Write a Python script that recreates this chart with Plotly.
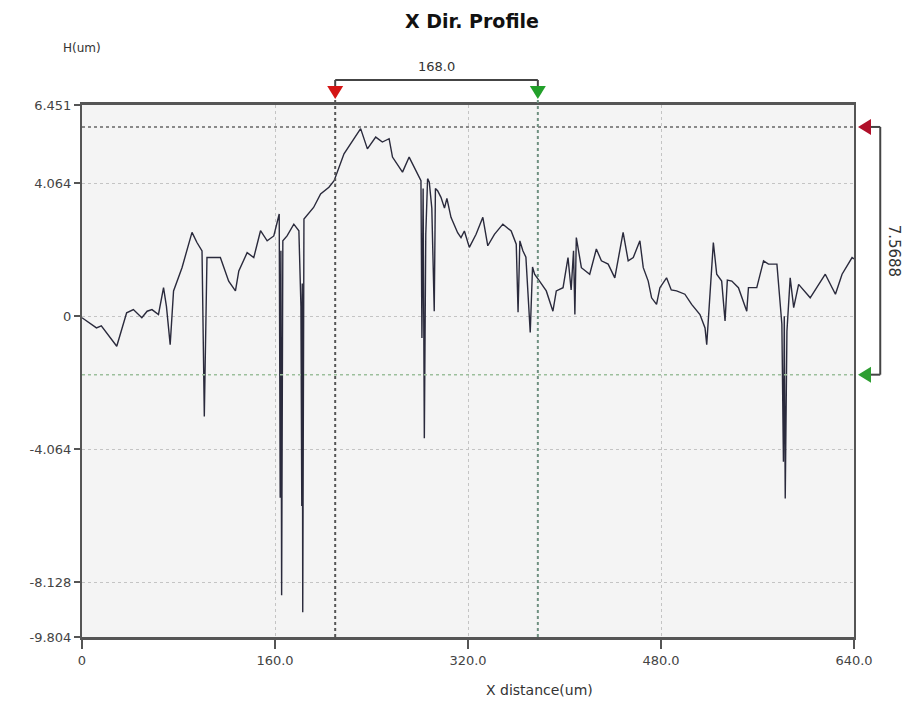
import plotly.graph_objects as go

# ---- profile data (X distance in um, height in um) ----
x_um = [0, 3.9, 7.5, 12, 16, 20.5, 28.8, 37, 42.6, 49.6, 54, 58, 63.4, 67.6, 70, 73.1, 75.9,
        82.9, 91.2, 95.3, 99.5, 101.4, 103.6, 114.7, 121.6, 127.2, 130, 136.9, 142.4, 148,
        153.5, 159, 163.5, 164.3, 164.9, 165.5, 166.5, 170, 175.6, 179.8, 181.5, 182.2, 182.6,
        183.0, 184, 192, 197.8, 204.7, 209, 217.2, 222.8, 231, 236.6, 243.5, 249, 254.6, 257.4,
        265.7, 271.2, 276.8, 281, 281.8, 282.8, 283.8, 285, 286.5, 287.9, 290, 292, 293, 294.8,
        297.6, 300.5, 302.5, 305.9, 311.4, 314.2, 317, 321.1, 326.7, 332.3, 336.4, 341.9, 348.9,
        355.8, 360, 361.5, 363, 365.5, 368, 371.6, 373.5, 375.2, 379.3, 384.9, 390.4, 393.2,
        398.8, 402.9, 405.5, 407.5, 408.6, 409.8, 414, 420.9, 426.4, 430.6, 436.2, 441.7, 448.6,
        452.8, 457, 462.5, 465.3, 469.4, 472.2, 476.3, 479.1, 484.6, 488.5, 492.9, 499.8, 505.4,
        512.3, 516.5, 517.9, 520, 523.4, 526.2, 530.3, 533.1, 535, 538.7, 544.2, 551.1, 552.5,
        559.4, 565, 569.1, 576.1, 580.2, 581.5, 582.2, 583, 584.4, 587.1, 590, 594.1, 603.7,
        610.7, 616.2, 624.6, 630.1, 638.4, 640]
h_um = [-0.05, -0.15, -0.25, -0.36, -0.30, -0.51, -0.92, 0.10, 0.20, -0.05, 0.15, 0.20, 0.05, 0.87,
        0.30, -0.87, 0.77, 1.48, 2.56, 2.25, 1.99, -3.07, 1.79, 1.79, 1.07, 0.77, 1.38, 1.94, 1.79,
        2.61, 2.30, 2.45, 3.12, -5.55, 2.00, -8.53, 2.30, 2.45, 2.81, 2.61, 0.30, -5.80, 1.00,
        -9.05, 2.97, 3.32, 3.73, 3.94, 4.14, 4.96, 5.27, 5.73, 5.11, 5.47, 5.32, 5.42, 4.86, 4.40,
        4.86, 4.45, 4.14, -0.67, 3.90, -3.73, 2.50, 4.20, 4.09, 3.30, 0.15, 3.90, 3.83, 3.63, 3.30,
        3.60, 3.02, 2.55, 2.40, 2.60, 2.10, 2.50, 3.02, 2.15, 2.50, 2.81, 2.60, 2.20, 0.12, 2.30,
        2.00, 1.80, -0.50, 1.50, 1.28, 1.07, 0.77, 0.15, 0.77, 0.87, 1.79, 0.80, 2.00, 0.05, 2.40,
        1.48, 1.28, 2.05, 1.69, 1.59, 1.17, 2.56, 1.69, 1.79, 2.30, 1.48, 1.07, 0.56, 0.36, 0.87,
        1.17, 0.80, 0.77, 0.67, 0.36, 0.05, -0.36, -0.87, 0.20, 2.25, 1.28, 1.07, -0.15, 1.10,
        1.07, 0.87, 0.15, 0.87, 0.87, 1.69, 1.59, 1.59, -0.25, -4.45, 0.00, -5.57, -0.46, 1.17,
        0.26, 0.97, 0.56, 0.97, 1.28, 0.67, 1.28, 1.79, 1.75]

# ---- axes ----
x_ticks = [0, 160, 320, 480, 640]
x_tick_text = ["0", "160.0", "320.0", "480.0", "640.0"]
y_ticks = [6.451, 4.064, 0, -4.064, -8.128, -9.804]
y_tick_text = ["6.451", "4.064", "0", "-4.064", "-8.128", "-9.804"]
x_range = [0, 640]
y_range = [-9.804, 6.451]

# ---- measurement cursors ----
cursor_x = [209.9, 377.9]     # red / green X cursors
cursor_h = [5.78, -1.789]     # red / green height cursors
dx_label = "168.0"
dh_label = "7.5688"

RED, GREEN = "#d41515", "#22a02a"
RED_R, GREEN_R = "#b0102a", "#2e9e32"
FONT = "DejaVu Sans, Verdana, sans-serif"

W, H = 902, 702
M = dict(l=82, r=48, t=105, b=65)
PW = W - M["l"] - M["r"]
PH = H - M["t"] - M["b"]


def xp(v):
    return (v - x_range[0]) / (x_range[1] - x_range[0])


def yp(v):
    return (v - y_range[0]) / (y_range[1] - y_range[0])


def tri_down(cx, tip_y, w=16, h=13):
    """Downward triangle in paper coords, tip at (cx, tip_y); w/h in pixels."""
    dx, dy = w / 2 / PW, h / PH
    return f"M {cx - dx} {tip_y + dy} L {cx + dx} {tip_y + dy} L {cx} {tip_y} Z"


def tri_left(tip_x, cy, w=13, h=16):
    dx, dy = w / PW, h / 2 / PH
    return f"M {tip_x + dx} {cy - dy} L {tip_x + dx} {cy + dy} L {tip_x} {cy} Z"


fig = go.Figure()

fig.add_trace(go.Scatter(x=x_um, y=h_um, mode="lines",
                         line=dict(color="#2a2a3c", width=1.4), hoverinfo="skip"))

shapes = []
# horizontal cursor lines
shapes.append(dict(type="line", xref="paper", yref="paper", x0=0, x1=1,
                   y0=yp(cursor_h[0]), y1=yp(cursor_h[0]),
                   line=dict(color="#666666", width=1.6, dash="dot")))
shapes.append(dict(type="line", xref="paper", yref="paper", x0=0, x1=1,
                   y0=yp(cursor_h[1]), y1=yp(cursor_h[1]),
                   line=dict(color="#9cbf9c", width=1.6, dash="dot")))
# vertical cursor lines
shapes.append(dict(type="line", xref="paper", yref="paper", x0=xp(cursor_x[0]), x1=xp(cursor_x[0]),
                   y0=0, y1=1.02, line=dict(color="#555555", width=2, dash="dot")))
shapes.append(dict(type="line", xref="paper", yref="paper", x0=xp(cursor_x[1]), x1=xp(cursor_x[1]),
                   y0=0, y1=1.02, line=dict(color="#6f9080", width=2, dash="dot")))
# top dimension bracket
top_y, top_tick = 1.047, 1.030
shapes.append(dict(type="line", xref="paper", yref="paper", x0=xp(cursor_x[0]), x1=xp(cursor_x[1]),
                   y0=top_y, y1=top_y, line=dict(color="#444444", width=2)))
for cx in cursor_x:
    shapes.append(dict(type="line", xref="paper", yref="paper", x0=xp(cx), x1=xp(cx),
                       y0=top_tick, y1=top_y, line=dict(color="#444444", width=2)))
# right dimension bracket
rx, rx_tick = 1.034, 1.020
shapes.append(dict(type="line", xref="paper", yref="paper", x0=rx, x1=rx,
                   y0=yp(cursor_h[1]), y1=yp(cursor_h[0]), line=dict(color="#444444", width=2)))
for ch in cursor_h:
    shapes.append(dict(type="line", xref="paper", yref="paper", x0=rx_tick, x1=rx,
                       y0=yp(ch), y1=yp(ch), line=dict(color="#444444", width=2)))
# cursor arrow heads
tip_top = 1 + 6 / PH
for cx, col in zip(cursor_x, [RED, GREEN]):
    shapes.append(dict(type="path", xref="paper", yref="paper", path=tri_down(xp(cx), tip_top),
                       fillcolor=col, line=dict(width=0)))
tip_right = 1 + 4 / PW
for ch, col in zip(cursor_h, [RED_R, GREEN_R]):
    shapes.append(dict(type="path", xref="paper", yref="paper", path=tri_left(tip_right, yp(ch)),
                       fillcolor=col, line=dict(width=0)))

annotations = [
    dict(text="<b>X Dir. Profile</b>", xref="paper", yref="paper", x=0.505, y=1.157,
         showarrow=False, font=dict(size=19, color="#111111"), xanchor="center", yanchor="middle"),
    dict(text="H(um)", xref="paper", yref="paper", x=0.0, y=1.108, showarrow=False,
         font=dict(size=12, color="#333333"), xanchor="center", yanchor="middle"),
    dict(text=dx_label, xref="paper", yref="paper", x=(xp(cursor_x[0]) + xp(cursor_x[1])) / 2,
         y=1.073, showarrow=False, font=dict(size=13, color="#333333"),
         xanchor="center", yanchor="middle"),
    dict(text=dh_label, xref="paper", yref="paper", x=1.052,
         y=(yp(cursor_h[0]) + yp(cursor_h[1])) / 2, showarrow=False, textangle=90,
         font=dict(size=15, color="#333333"), xanchor="center", yanchor="middle"),
    dict(text="X distance(um)", xref="paper", yref="paper", x=0.593, y=-0.10, showarrow=False,
         font=dict(size=14, color="#333333"), xanchor="center", yanchor="middle"),
]

fig.update_layout(
    width=W, height=H,
    margin=M,
    paper_bgcolor="white", plot_bgcolor="#f4f4f4",
    showlegend=False,
    font=dict(family=FONT, size=13, color="#333333"),
    shapes=shapes, annotations=annotations,
)
fig.update_xaxes(range=x_range, tickvals=x_ticks, ticktext=x_tick_text,
                 showline=True, linecolor="#555555", linewidth=3, mirror=True,
                 ticks="outside", ticklen=9, tickwidth=2, tickcolor="#555555",
                 showgrid=True, gridcolor="#c4c4c4", griddash="dot", gridwidth=1,
                 zeroline=False, tickfont=dict(size=13, color="#444444"))
fig.update_yaxes(range=y_range, tickvals=y_ticks, ticktext=y_tick_text,
                 showline=True, linecolor="#555555", linewidth=2, mirror=True,
                 ticks="outside", ticklen=6, tickwidth=1.5, tickcolor="#555555",
                 showgrid=True, gridcolor="#c4c4c4", griddash="dot", gridwidth=1,
                 zeroline=False, tickfont=dict(size=13, color="#444444"))

fig.write_html("out.html")
